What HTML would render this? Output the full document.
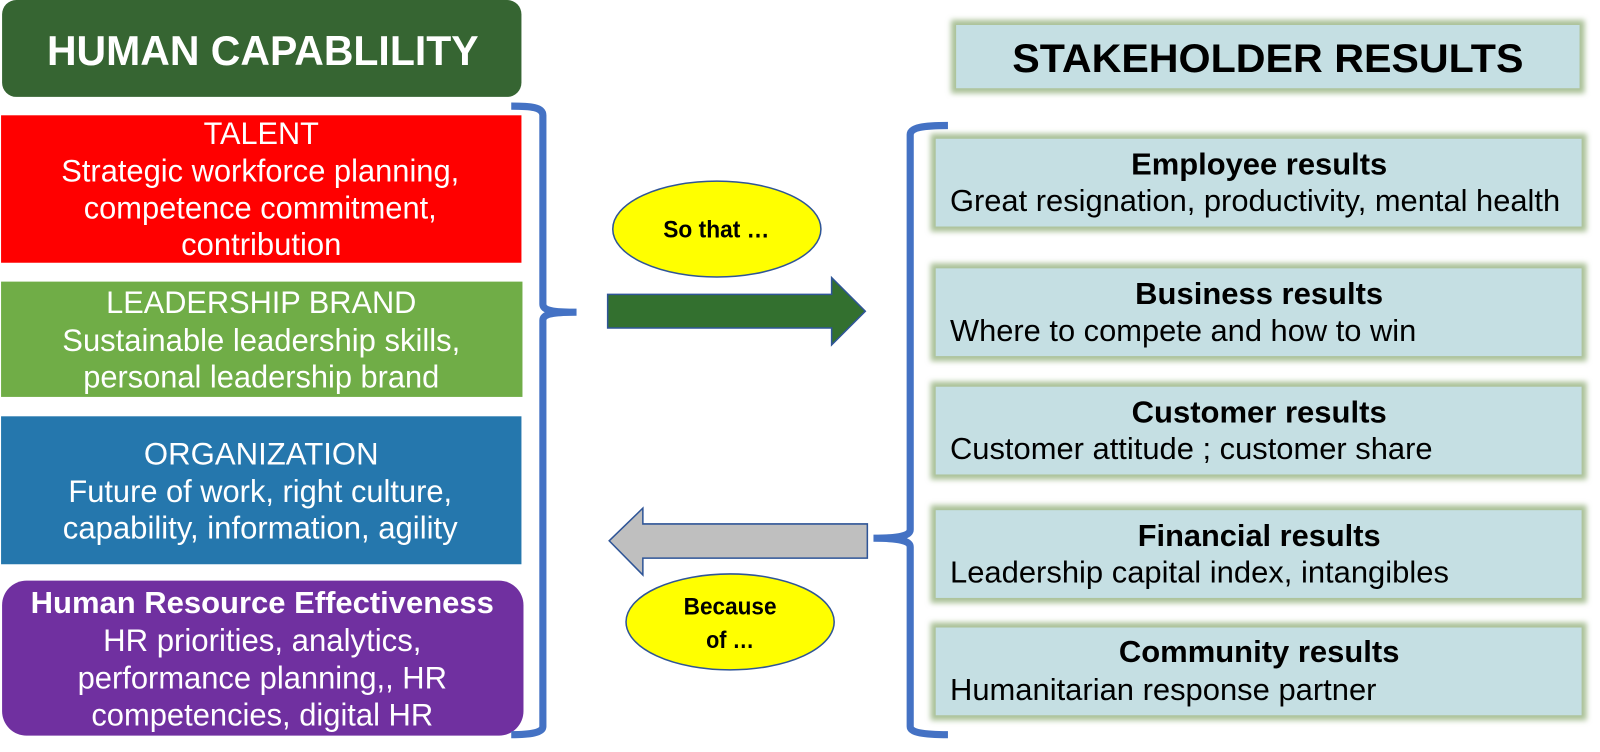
<!DOCTYPE html>
<html>
<head>
<meta charset="utf-8">
<style>
html,body{margin:0;padding:0;background:#fff;width:1600px;height:752px;overflow:hidden}
svg{display:block}
text{font-family:"Liberation Sans",sans-serif}
.w{fill:#fff;font-size:31px;text-anchor:middle}
.t{fill:#000;font-size:29.5px;font-weight:bold;text-anchor:middle}
.s{fill:#000;font-size:30px}
.e{fill:#000;font-size:24px;font-weight:bold;text-anchor:middle}
.gl{fill:#aac198;filter:url(#g)}
.bx{fill:#c5dfe3}
</style>
</head>
<body>
<svg width="1600" height="752" viewBox="0 0 1568 737" xmlns="http://www.w3.org/2000/svg">
<defs><filter id="g" x="-5%" y="-25%" width="110%" height="150%"><feGaussianBlur stdDeviation="2.6"/></filter></defs>
<rect width="1568" height="737" fill="#fff"/>

<!-- Left column -->
<rect x="2" y="0" width="509" height="95" rx="14" fill="#366532"/>
<text x="257.500" y="63.500" fill="#fff" font-size="40.500" font-weight="bold" text-anchor="middle" textLength="423" lengthAdjust="spacingAndGlyphs">HUMAN CAPABLILITY</text>

<rect x="1" y="113" width="510" height="144.500" fill="#ff0000"/>
<text class="w" x="256" y="141" textLength="113" lengthAdjust="spacingAndGlyphs">TALENT</text>
<text class="w" x="255" y="178" textLength="390" lengthAdjust="spacingAndGlyphs">Strategic workforce planning,</text>
<text class="w" x="255" y="214" textLength="346" lengthAdjust="spacingAndGlyphs">competence commitment,</text>
<text class="w" x="256" y="250" textLength="157" lengthAdjust="spacingAndGlyphs">contribution</text>

<rect x="1" y="276" width="511" height="113" fill="#70ad47"/>
<text class="w" x="256" y="307" textLength="304" lengthAdjust="spacingAndGlyphs">LEADERSHIP BRAND</text>
<text class="w" x="256" y="344" textLength="390" lengthAdjust="spacingAndGlyphs">Sustainable leadership skills,</text>
<text class="w" x="256" y="380" textLength="349" lengthAdjust="spacingAndGlyphs">personal leadership brand</text>

<rect x="1" y="408" width="510" height="145" fill="#2577ad"/>
<text class="w" x="256" y="455" textLength="230" lengthAdjust="spacingAndGlyphs">ORGANIZATION</text>
<text class="w" x="255" y="492" textLength="376" lengthAdjust="spacingAndGlyphs">Future of work, right culture,</text>
<text class="w" x="255" y="528" textLength="387" lengthAdjust="spacingAndGlyphs">capability, information, agility</text>

<rect x="2" y="569" width="511" height="152" rx="24" fill="#7030a0"/>
<text class="w" x="257" y="601" font-weight="bold" style="font-size:29.500px" textLength="454" lengthAdjust="spacingAndGlyphs">Human Resource Effectiveness</text>
<text class="w" x="257" y="638" textLength="312" lengthAdjust="spacingAndGlyphs">HR priorities, analytics,</text>
<text class="w" x="257" y="675" textLength="362" lengthAdjust="spacingAndGlyphs">performance planning,, HR</text>
<text class="w" x="257" y="711" textLength="335" lengthAdjust="spacingAndGlyphs">competencies, digital HR</text>

<!-- Left brace -->
<path d="M501 104 C520 104 532 105 532 113 V298 C532 304 541 306 565 306 C541 306 532 308 532 314 V712 C532 718 520 720 501 720" fill="none" stroke="#4472c4" stroke-width="7"/>

<!-- Ovals and arrows -->
<ellipse cx="702.500" cy="224.500" rx="102" ry="47" fill="#ffff00" stroke="#2f5597" stroke-width="1.500"/>
<text class="e" x="702" y="233" textLength="104" lengthAdjust="spacingAndGlyphs">So that …</text>
<polygon points="595.500,288.500 815,288.500 815,272 848,305 815,338 815,321.500 595.500,321.500" fill="#33702f" stroke="#2f5597" stroke-width="1.500"/>

<polygon points="850,513.500 630,513.500 630,498 597,530 630,563.500 630,547 850,547" fill="#bfbfbf" stroke="#2f5597" stroke-width="1.500"/>
<ellipse cx="715.500" cy="609.500" rx="102" ry="47" fill="#ffff00" stroke="#2f5597" stroke-width="1.500"/>
<text class="e" x="715.500" y="602" textLength="91" lengthAdjust="spacingAndGlyphs">Because</text>
<text class="e" x="715.500" y="635" textLength="47" lengthAdjust="spacingAndGlyphs">of …</text>

<!-- Right header -->
<rect class="gl" x="932" y="19.500" width="621" height="72"/>
<rect class="bx" x="937" y="24.500" width="611" height="62"/>
<text x="1242.500" y="70.500" fill="#000" font-size="39.500" font-weight="bold" text-anchor="middle" textLength="501" lengthAdjust="spacingAndGlyphs">STAKEHOLDER RESULTS</text>

<!-- Right boxes -->
<rect class="gl" x="912" y="131" width="643" height="96"/>
<rect class="bx" x="917" y="136" width="633" height="86"/>
<text class="t" x="1234" y="171" textLength="251" lengthAdjust="spacingAndGlyphs">Employee results</text>
<text class="s" x="931" y="207" textLength="598" lengthAdjust="spacingAndGlyphs">Great resignation, productivity, mental health</text>

<rect class="gl" x="912" y="258" width="643" height="96"/>
<rect class="bx" x="917" y="263" width="633" height="86"/>
<text class="t" x="1234" y="298" textLength="243" lengthAdjust="spacingAndGlyphs">Business results</text>
<text class="s" x="931" y="334" textLength="457" lengthAdjust="spacingAndGlyphs">Where to compete and how to win</text>

<rect class="gl" x="912" y="374" width="643" height="96"/>
<rect class="bx" x="917" y="379" width="633" height="86"/>
<text class="t" x="1234" y="414" textLength="250" lengthAdjust="spacingAndGlyphs">Customer results</text>
<text class="s" x="931" y="450" textLength="473" lengthAdjust="spacingAndGlyphs">Customer attitude ; customer share</text>

<rect class="gl" x="912" y="495" width="643" height="96"/>
<rect class="bx" x="917" y="500" width="633" height="86"/>
<text class="t" x="1234" y="535" textLength="238" lengthAdjust="spacingAndGlyphs">Financial results</text>
<text class="s" x="931" y="571" textLength="489" lengthAdjust="spacingAndGlyphs">Leadership capital index, intangibles</text>

<rect class="gl" x="912" y="610" width="643" height="96"/>
<rect class="bx" x="917" y="615" width="633" height="86"/>
<text class="t" x="1234" y="649" textLength="275" lengthAdjust="spacingAndGlyphs">Community results</text>
<text class="s" x="931" y="686" textLength="418" lengthAdjust="spacingAndGlyphs">Humanitarian response partner</text>

<!-- Right brace -->
<path d="M929 123 C905 123 892 125 892 132 V519 C892 525 881 527.500 856 527.500 C881 527.500 892 530 892 536 V712 C892 718 905 720 929 720" fill="none" stroke="#4472c4" stroke-width="7"/>
</svg>
</body>
</html>
